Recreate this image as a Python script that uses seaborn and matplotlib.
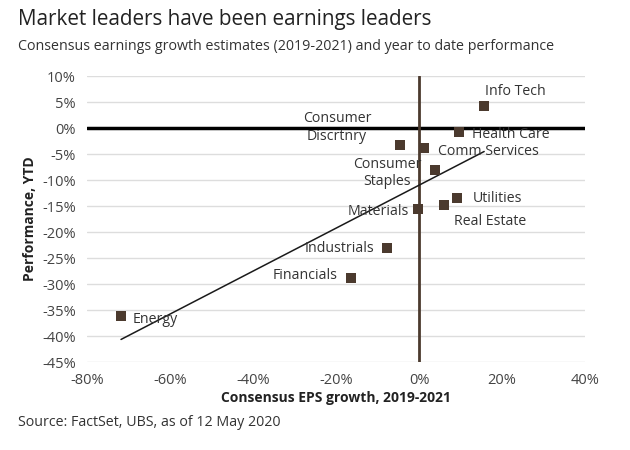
import matplotlib
matplotlib.use('Agg')
import matplotlib.pyplot as plt
import seaborn as sns
import pandas as pd

# sectors, consensus EPS growth 2019-2021 (%) and YTD performance (%)
sectors = ['Info Tech', 'Health Care', 'Consumer\nDiscrtnry', 'Comm Services',
           'Consumer\nStaples', 'Utilities', 'Real Estate', 'Materials',
           'Industrials', 'Financials', 'Energy']
eps_growth = [15.7, 9.6, -4.6, 1.2, 3.9, 9.2, 6.0, -0.2, -7.7, -16.4, -71.8]
performance = [4.2, -0.8, -3.3, -3.8, -8.1, -13.5, -14.8, -15.6, -23.1, -28.8, -36.2]

x_ticks = [-80, -60, -40, -20, 0, 20, 40]
y_ticks = [10, 5, 0, -5, -10, -15, -20, -25, -30, -35, -40, -45]

# label placement: offset in pixels from the point, alignment
label_pos = {
    'Info Tech': (1, 15, 'left'),
    'Health Care': (13, -2, 'left'),
    'Consumer\nDiscrtnry': (-63, 18, 'center'),
    'Comm Services': (14, -4, 'left'),
    'Consumer\nStaples': (-48, -3, 'center'),
    'Utilities': (16, 0, 'left'),
    'Real Estate': (10, -17, 'left'),
    'Materials': (-9, -2, 'right'),
    'Industrials': (-13, 0, 'right'),
    'Financials': (-13, 2, 'right'),
    'Energy': (12, -3, 'left'),
}

df = pd.DataFrame({'sector': sectors, 'eps': eps_growth, 'perf': performance})

sns.set_theme(style='white')
plt.rcParams['font.family'] = ['Open Sans', 'DejaVu Sans']

marker_col = '#4b3a2e'
text_col = '#333333'

fig = plt.figure(figsize=(6.3, 4.5), dpi=100)
ax = fig.add_axes([87 / 630, 1 - 362 / 450, 498 / 630, 286 / 450])

for y in y_ticks:
    if y != 0:
        ax.axhline(y, color='#dddddd', lw=1, zorder=0)

sns.regplot(data=df, x='eps', y='perf', ax=ax, ci=None, scatter=False, truncate=True,
            line_kws=dict(color='#1a1a1a', lw=1.1, zorder=2))
ax.axhline(0, color='black', lw=2.5, zorder=1)
ax.axvline(0, color='#4b3a2e', lw=2, zorder=1)
sns.scatterplot(data=df, x='eps', y='perf', ax=ax, marker='s', s=55, color=marker_col,
                edgecolor='none', zorder=3)

for name, xv, yv in zip(sectors, eps_growth, performance):
    dx, dy, ha = label_pos[name]
    ax.annotate(name, (xv, yv), xytext=(dx * 0.72, dy * 0.72), textcoords='offset points',
                ha=ha, va='center', fontsize=10.2, color=text_col, linespacing=1.25)

ax.set_xlim(-80, 40)
ax.set_ylim(-45, 10)
ax.set_xticks(x_ticks)
ax.set_yticks(y_ticks)
ax.set_xticklabels([f'{v}%' for v in x_ticks])
ax.set_yticklabels([f'{v}%' for v in y_ticks])
ax.tick_params(axis='both', length=0, labelsize=10.5, labelcolor='#444444', pad=8)
sns.despine(ax=ax, left=True, bottom=True)

ax.set_xlabel('Consensus EPS growth, 2019-2021', fontsize=10, fontweight='bold',
              color='#222222', labelpad=2)
ax.set_ylabel('Performance, YTD', fontsize=10, fontweight='bold', color='#222222', labelpad=4)

fig.text(18 / 630, 1 - 20 / 450, 'Market leaders have been earnings leaders',
         fontsize=14.9, color='#222222', va='center', ha='left')
fig.text(18 / 630, 1 - 46 / 450,
         'Consensus earnings growth estimates (2019-2021) and year to date performance',
         fontsize=10.3, color='#333333', va='center', ha='left')
fig.text(18 / 630, 1 - 423 / 450, 'Source: FactSet, UBS, as of 12 May 2020',
         fontsize=10.3, color='#333333', va='center', ha='left')

fig.savefig('out.png', dpi=100)
